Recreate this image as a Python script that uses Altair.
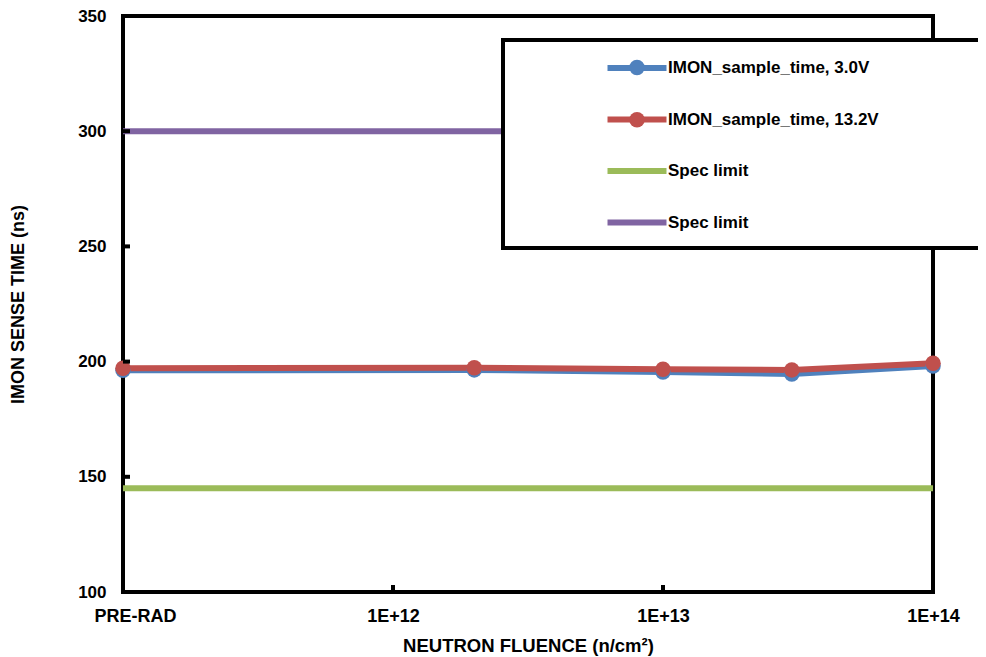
import altair as alt
import pandas as pd

# ---- values ----
fluence = [1e11, 2e12, 1e13, 3e13, 1e14]          # 1e11 is plotted as PRE-RAD
sense_3v0 = [196.2, 196.4, 195.5, 194.6, 198.1]
sense_13v2 = [197.1, 197.3, 196.7, 196.4, 199.3]
spec_fluence = [1e11, 1e14]
spec_low = [145, 145]
spec_high = [300, 300]

series = ["Spec limit (low)", "Spec limit (high)",
          "IMON_sample_time, 3.0V", "IMON_sample_time, 13.2V"]
legend_order = ["IMON_sample_time, 3.0V", "IMON_sample_time, 13.2V",
                "Spec limit (low)", "Spec limit (high)"]
legend_colors = ["#4F81BD", "#C0504D", "#9BBB59", "#8064A2"]
marker_series = ["IMON_sample_time, 3.0V", "IMON_sample_time, 13.2V"]
marker_colors = ["#4F81BD", "#C0504D"]

x_ticks = [1e11, 1e12, 1e13, 1e14]
x_inner_ticks = [1e12, 1e13]
y_ticks = [100, 150, 200, 250, 300, 350]
y_inner_ticks = [150, 200, 250, 300]

# ---- tables built from the arrays ----
rows = []
for x, y in zip(spec_fluence, spec_low):
    rows.append({"fluence": x, "time": y, "series": series[0], "k": 0})
for x, y in zip(spec_fluence, spec_high):
    rows.append({"fluence": x, "time": y, "series": series[1], "k": 1})
for x, y in zip(fluence, sense_3v0):
    rows.append({"fluence": x, "time": y, "series": series[2], "k": 2})
for x, y in zip(fluence, sense_13v2):
    rows.append({"fluence": x, "time": y, "series": series[3], "k": 3})
df = pd.DataFrame(rows)
df_markers = df[df["series"].isin(marker_series)]

FONT = "Liberation Sans"

xscale = alt.Scale(type="log", domain=[1e11, 1e14], nice=False)
yscale = alt.Scale(domain=[100, 350], nice=False, zero=False)

x_axis = alt.Axis(
    values=x_ticks,
    labelExpr="datum.value < 2e11 ? 'PRE-RAD' : '1E+' + format(log(datum.value)/LN10, '.0f')",
    labelFlush=False,
    labelOffset={"condition": {"test": "datum.value < 2e11", "value": 12}, "value": 0},
    domain=False, ticks=False, grid=False,
    labelFont=FONT, labelFontSize=18, labelFontWeight="bold", labelColor="black",
    labelPadding=15,
    title="NEUTRON FLUENCE (n/cm²)",
    titleFont=FONT, titleFontSize=18.5, titleFontWeight="bold", titleColor="black",
    titlePadding=11,
)
y_axis = alt.Axis(
    values=y_ticks, labelFlush=False,
    domain=False, ticks=False, grid=False,
    labelFont=FONT, labelFontSize=17, labelFontWeight="bold", labelColor="black",
    labelPadding=17,
    title="IMON SENSE TIME (ns)",
    titleFont=FONT, titleFontSize=18, titleFontWeight="bold", titleColor="black",
    titlePadding=50,
)

X = lambda: alt.X("fluence:Q", scale=xscale, axis=x_axis)
Y = lambda: alt.Y("time:Q", scale=yscale, axis=y_axis)

lines = alt.Chart(df).mark_line(strokeWidth=6, strokeJoin="round").encode(
    x=X(), y=Y(),
    stroke=alt.Stroke(
        "series:N",
        scale=alt.Scale(domain=legend_order, range=legend_colors),
        legend=alt.Legend(
            orient="none", legendX=496, legendY=34, title=None, padding=0,
            symbolType="M-2,0L2,0", symbolSize=870, symbolStrokeWidth=6,
            symbolFillColor="transparent",
            labelFont=FONT, labelFontSize=17, labelFontWeight="bold",
            labelColor="black", labelLimit=400, labelOffset=13,
            rowPadding=21.5,
            labelExpr="indexof(datum.label, 'Spec') == 0 ? 'Spec limit' : datum.label",
        ),
    ),
    order=alt.Order("k:Q"),
    detail="series:N",
)

markers = alt.Chart(df_markers).mark_point(
    filled=True, shape="circle", size=240, opacity=1, strokeWidth=0
).encode(
    x=X(), y=Y(),
    fill=alt.Fill(
        "series:N",
        scale=alt.Scale(domain=marker_series, range=marker_colors),
        legend=alt.Legend(
            orient="none", legendX=505.5, legendY=43, title=None, padding=0,
            symbolType="circle", symbolSize=240, symbolStrokeWidth=0,
            symbolOpacity=1,
            labelExpr="''", labelFontSize=17, labelOffset=17,
            rowPadding=34.2,
        ),
    ),
    order=alt.Order("k:Q"),
)

x_tick_marks = alt.Chart(pd.DataFrame({"fluence": x_inner_ticks})).mark_rule(
    color="black", strokeWidth=4
).encode(
    x=X(), y=alt.value(569), y2=alt.value(576),
)
y_tick_marks = alt.Chart(pd.DataFrame({"time": y_inner_ticks})).mark_rule(
    color="black", strokeWidth=4
).encode(
    y=Y(), x=alt.value(0), x2=alt.value(7),
)

legend_box = alt.Chart(pd.DataFrame({"box": [0]})).mark_rect(
    fill="white", stroke="black", strokeWidth=4
).encode(
    x=alt.value(380), x2=alt.value(900), y=alt.value(24), y2=alt.value(232),
)

chart = alt.layer(
    lines, markers, x_tick_marks, y_tick_marks, legend_box
).properties(
    width=810, height=576,
    autosize=alt.AutoSizeParams(type="none"),
    padding={"left": 115, "top": 8, "right": 45, "bottom": 65},
    background="white",
).configure_view(
    stroke="black", strokeWidth=4
)

chart.save("out.html", embed_options={"renderer": "svg", "actions": False})
